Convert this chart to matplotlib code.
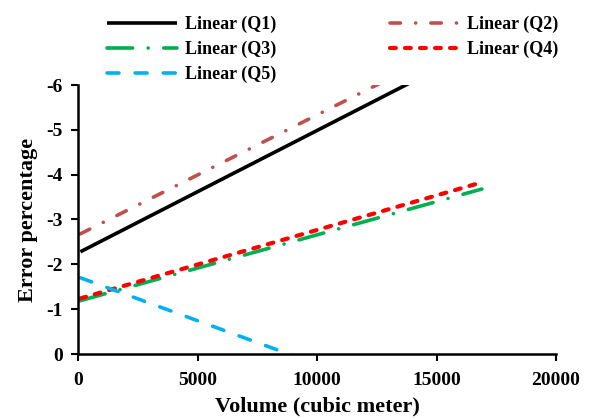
import matplotlib
matplotlib.use("Agg")
import matplotlib.pyplot as plt

plt.rcParams['font.family'] = ['Liberation Serif', 'DejaVu Serif']
plt.rcParams['font.weight'] = 'bold'
plt.rcParams['axes.unicode_minus'] = False

# Data: linear trendlines (endpoints)
series = ["Linear (Q1)", "Linear (Q2)", "Linear (Q3)", "Linear (Q4)", "Linear (Q5)"]
x_range = [100, 16900]
y_start = [-2.28, -2.68, -1.19, -1.24, -1.70]
y_end = [-6.87, -7.18, -3.68, -3.83, 1.58]
x_ticks = [0, 5000, 10000, 15000, 20000]
y_ticks = [0, -1, -2, -3, -4, -5, -6]

colors = ["#000000", "#C0504D", "#00B050", "#FF0000", "#00B0F0"]
widths = [2.6, 2.6, 2.6, 3.0, 2.6]
styles = ["-", (0, (2.9, 4.2, 0.01, 4.2)), (0, (7.1, 4.3, 0.01, 4.3)),
          (0, (1.4, 2.2)), (0, (3.3, 4.5))]

fig = plt.figure(figsize=(5.97, 4.19), dpi=100)
ax = fig.add_axes([78/597, 1-354/419, (556-78)/597, (354-85)/419])

lines = []
for name, ys, ye, c, w, s in zip(series, y_start, y_end, colors, widths, styles):
    ln, = ax.plot(x_range, [ys, ye], color=c, lw=w, linestyle=s,
                  dash_capstyle='round', solid_capstyle='butt', label=name)
    lines.append(ln)

ax.set_xlim(0, 20000)
ax.set_ylim(0, -6)
ax.set_xticks(x_ticks)
ax.set_yticks(y_ticks)
ax.set_xticklabels([str(v) for v in x_ticks])
ax.set_yticklabels([str(v) for v in y_ticks])
ax.tick_params(axis='both', labelsize=14, width=1.5, length=5, direction='out', pad=6)
ax.tick_params(axis='x', pad=8)
for lab in ax.get_xticklabels() + ax.get_yticklabels():
    lab.set_fontweight('bold')
for sp in ['top', 'right']:
    ax.spines[sp].set_visible(False)
for sp in ['left', 'bottom']:
    ax.spines[sp].set_linewidth(1.8)

ax.set_xlabel("Volume (cubic meter)", fontsize=16, fontweight='bold', labelpad=5)
ax.set_ylabel("Error percentage", fontsize=16, fontweight='bold', labelpad=6)

order = [0, 2, 4, 1, 3]
leg = fig.legend([lines[i] for i in order], [series[i] for i in order],
                 ncol=2, loc='upper left', bbox_to_anchor=(107/597, 1-16/419),
                 frameon=False, fontsize=13, handlelength=3.9, handletextpad=0.4,
                 columnspacing=6.3, labelspacing=0.42, borderpad=0, borderaxespad=0)
for t in leg.get_texts():
    t.set_fontweight('bold')

fig.savefig("out.png", dpi=100)
